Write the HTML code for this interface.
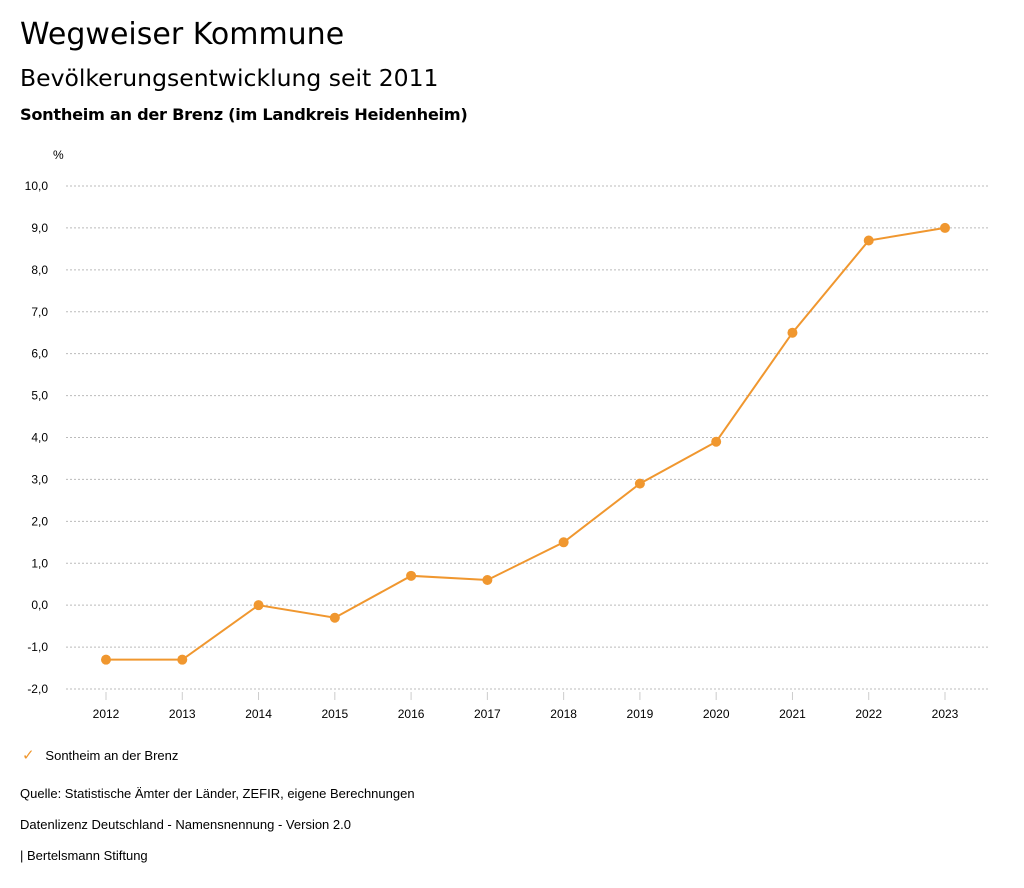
<!DOCTYPE html>
<html><head><meta charset="utf-8"><style>
body{margin:0;background:#fff;font-family:"Liberation Sans",sans-serif;color:#000;}
.t{position:absolute;white-space:nowrap}
.h{font-family:"DejaVu Sans",sans-serif}
</style></head><body>
<div style="position:relative;width:1024px;height:888px;overflow:hidden">
<div class="t h" style="left:20px;top:17px;font-size:30px">Wegweiser Kommune</div>
<div class="t h" style="left:20px;top:64px;font-size:23.5px">Bevölkerungsentwicklung seit 2011</div>
<div class="t h" style="left:20px;top:105px;font-size:16.2px;font-weight:bold;letter-spacing:-0.3px">Sontheim an der Brenz (im Landkreis Heidenheim)</div>
<svg id="chart" width="1024" height="888" style="position:absolute;left:0;top:0" font-family="Liberation Sans, sans-serif"></svg>
<div class="t" style="left:22px;top:746px;font-size:13px"><span style="color:#f0972f;font-size:15px">✓</span>&nbsp;&nbsp;&nbsp;Sontheim an der Brenz</div>
<div class="t" style="left:20px;top:786px;font-size:13px">Quelle: Statistische Ämter der Länder, ZEFIR, eigene Berechnungen</div>
<div class="t" style="left:20px;top:817px;font-size:13px">Datenlizenz Deutschland - Namensnennung - Version 2.0</div>
<div class="t" style="left:20px;top:848px;font-size:13px">| Bertelsmann Stiftung</div>
</div>
<script>
const years=["2012","2013","2014","2015","2016","2017","2018","2019","2020","2021","2022","2023"];
const values=[-1.3,-1.3,0.0,-0.3,0.7,0.6,1.5,2.9,3.9,6.5,8.7,9.0];
const yTicks=[10,9,8,7,6,5,4,3,2,1,0,-1,-2];
const svg=document.getElementById('chart');
const NS='http://www.w3.org/2000/svg';
const y=v=>186+(10-v)*(503/12);
const x=i=>106+i*(839/11);
function mk(t,a){const e=document.createElementNS(NS,t);for(const k in a)e.setAttribute(k,a[k]);svg.appendChild(e);return e;}
let u=mk('text',{x:53,y:159,'font-size':12});u.textContent='%';


yTicks.forEach(v=>{
 const g=mk('line',{x1:66,x2:990,y1:y(v),y2:y(v),stroke:'#bbb','stroke-dasharray':'2,2','stroke-width':1});
 
 
 const t=mk('text',{x:48,y:y(v)+4,'text-anchor':'end','font-size':12});
 t.textContent=v.toFixed(1).replace('.',',');
 
 
});
years.forEach((yr,i)=>{
 const tk=mk('line',{x1:x(i),x2:x(i),y1:692,y2:700,stroke:'#ccc'});
 
 
 const t=mk('text',{x:x(i),y:718,'text-anchor':'middle','font-size':12});
 t.textContent=yr;
 
 
});
const p=mk('polyline',{points:values.map((v,i)=>x(i)+','+y(v)).join(' '),fill:'none',stroke:'#f0972f','stroke-width':2});


values.forEach((v,i)=>{
 const c=mk('circle',{cx:x(i),cy:y(v),r:5,fill:'#f0972f'});
 
 
});
</script>
</body></html>
